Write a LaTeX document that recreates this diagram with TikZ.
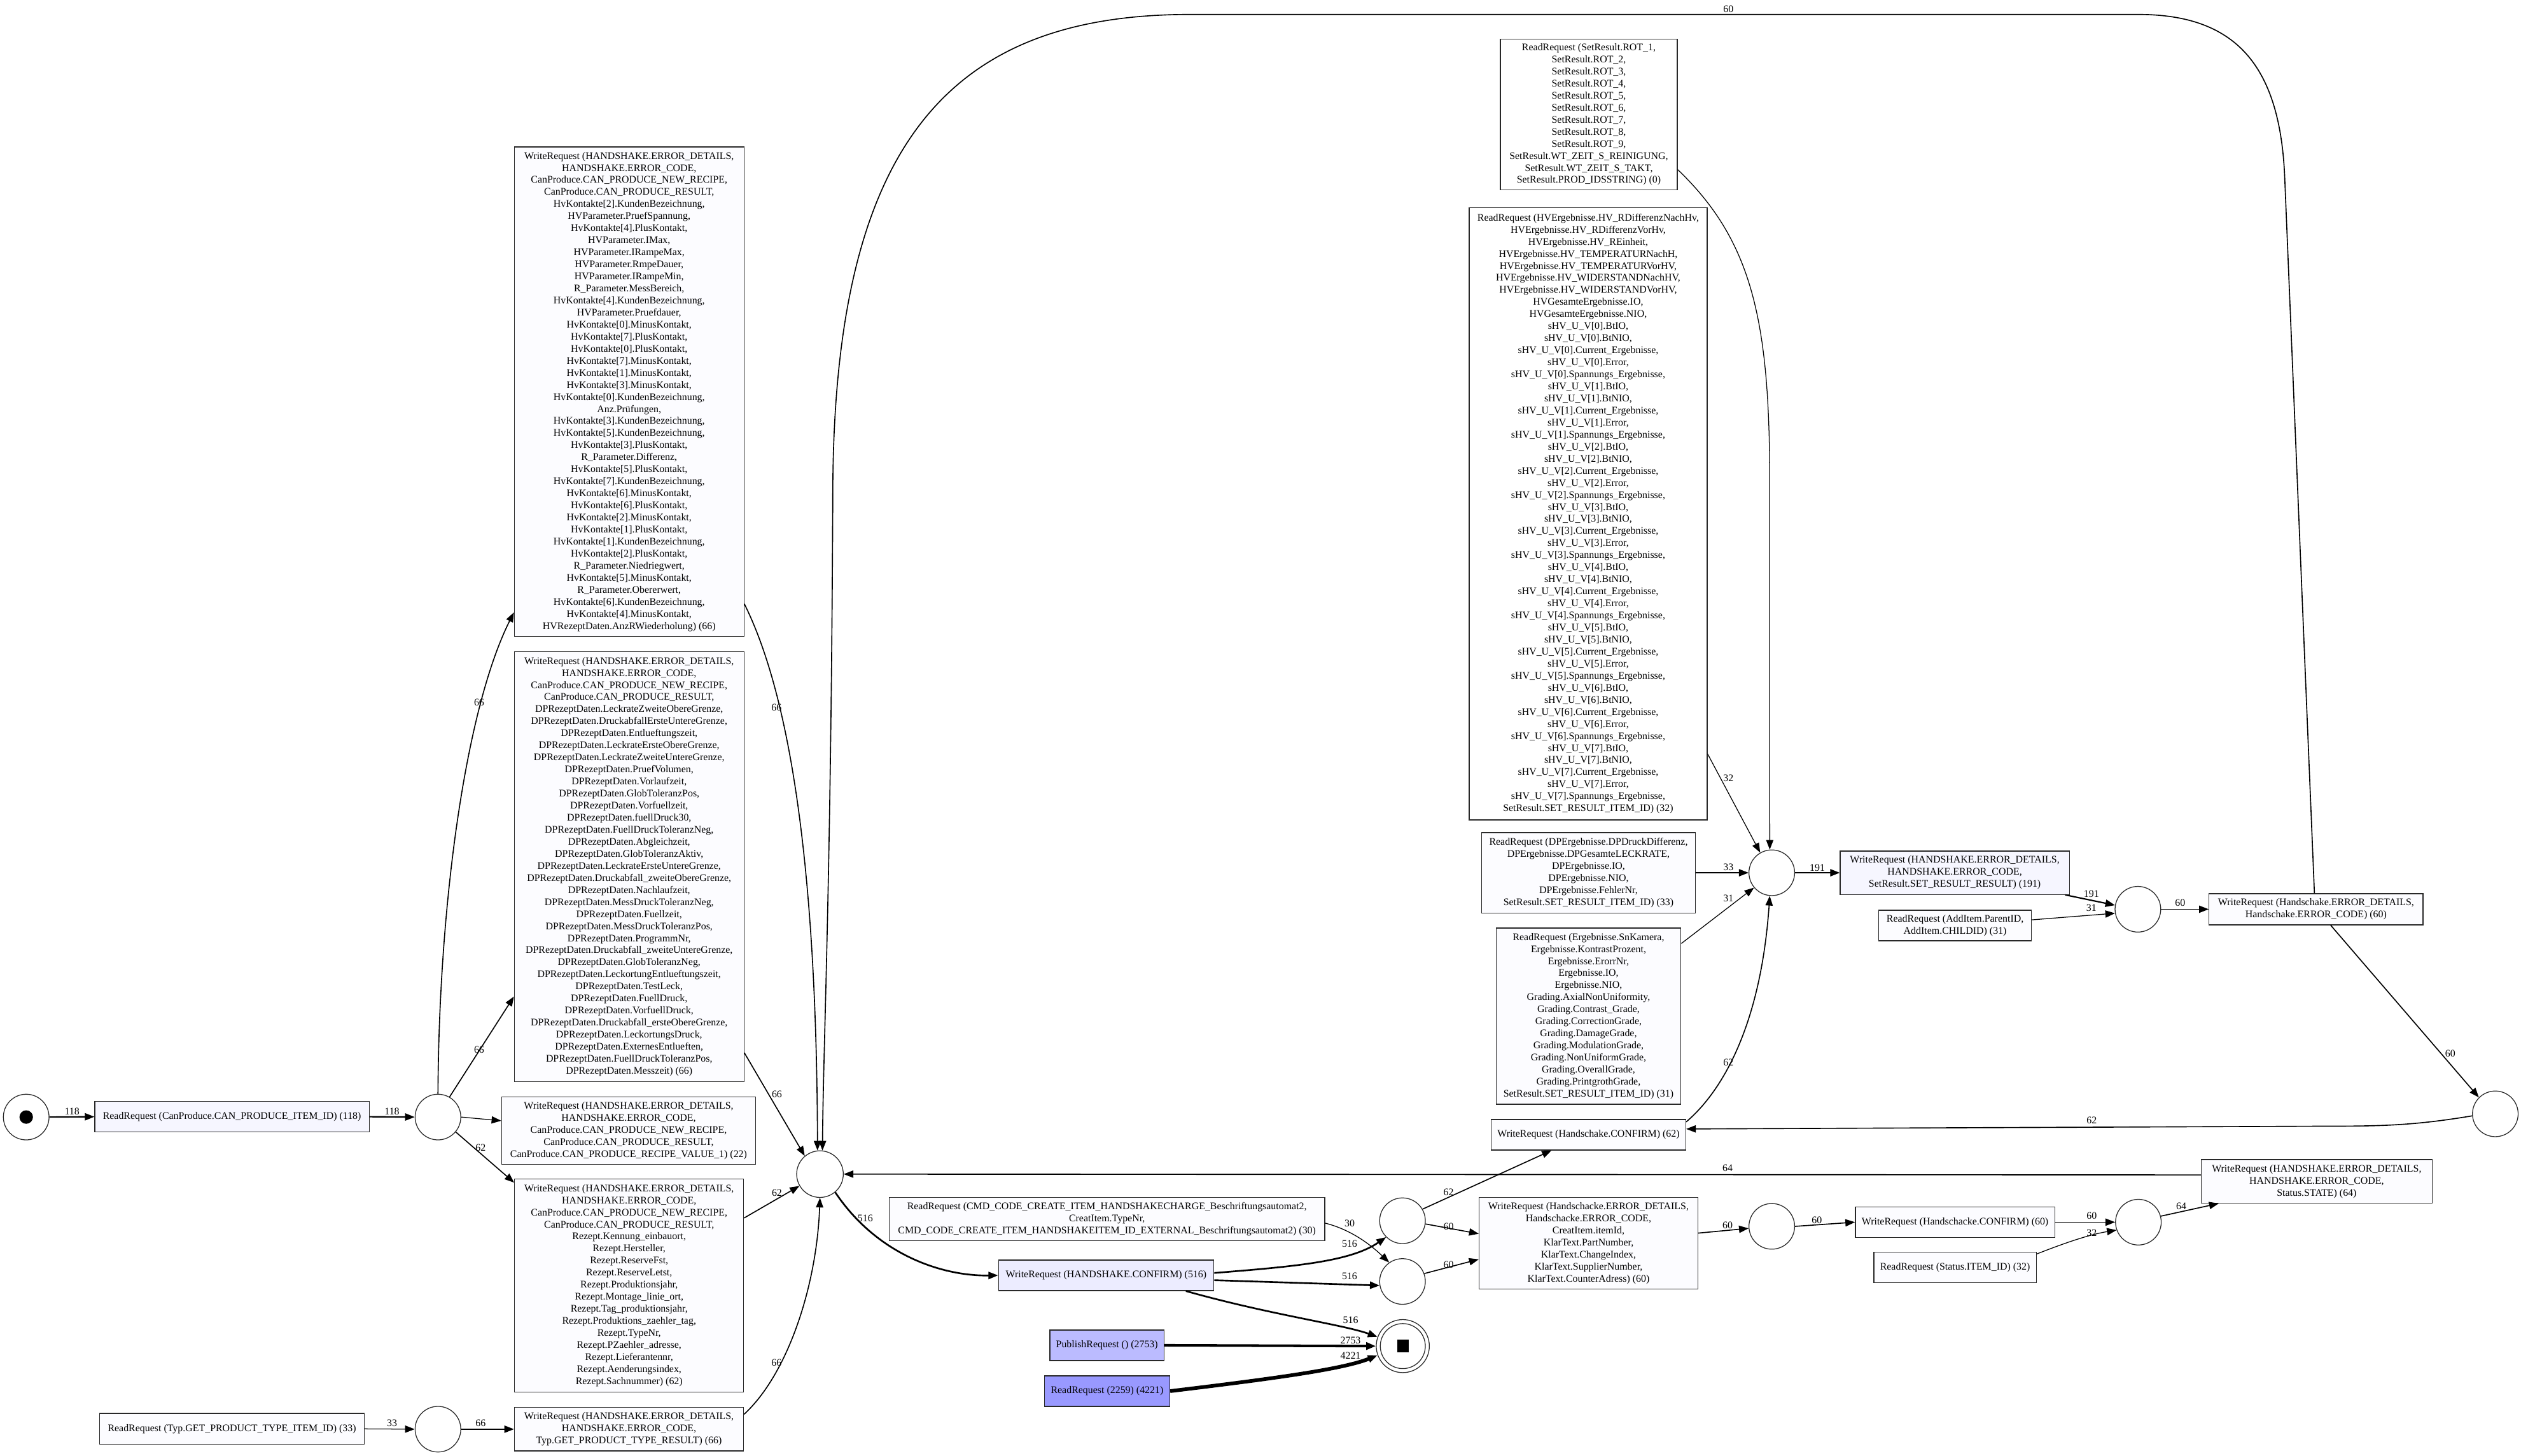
\documentclass[tikz,border=0pt]{standalone}
\usepackage{fontspec}
\setmainfont{Liberation Serif}
\usetikzlibrary{arrows.meta}
\definecolor{fA}{RGB}{252,252,255}
\definecolor{fB}{RGB}{246,246,255}
\definecolor{fC}{RGB}{236,236,255}
\definecolor{fD}{RGB}{187,187,255}
\definecolor{fE}{RGB}{153,153,255}
\definecolor{ln}{RGB}{40,40,40}
\newcommand{\dfs}{\fontsize{6.3}{7.5}\selectfont}
\begin{document}
\begin{tikzpicture}[x=1pt,y=-1pt,
  box/.style={draw=ln, line width=0.5pt, fill=fA, align=center, inner sep=1pt, font=\dfs},
  sz/.style 2 args={minimum width=#1pt, minimum height=#2pt},
  st/.style={circle, draw=ln, line width=0.5pt, minimum size=#1pt, inner sep=0pt},
  st/.default=28.4,
  lbl/.style={font=\dfs, inner sep=0pt},
  conn/.style={-{Triangle[length=6pt,width=4.5pt]}, draw=black},
  ea/.style={conn, line width=0.5pt},
  eb/.style={conn, line width=0.65pt},
  ec/.style={conn, line width=0.85pt},
  ed/.style={conn, line width=1.05pt},
  ee/.style={conn, line width=1.6pt},
  ef/.style={conn, line width=2.3pt}]
\fill[white] (0,0) rectangle (1568,905.5);
\useasboundingbox (0,0) rectangle (1568,905.5);

% ---------- nodes ----------
\node[st] (start) at (16.3,695) {};
\fill (start.center) circle[radius=4.2pt];
\node[box, fill=fB, sz={170.6}{19}] (R118) at (144.3,694.8) {ReadRequest (CanProduce.CAN\_PRODUCE\_ITEM\_ID) (118)};
\node[st] (c1) at (272.4,695) {};

\node[box, sz={142.8}{304.6}] (W66a) at (391.3,243.7) {WriteRequest (HANDSHAKE.ERROR\_DETAILS,\\
HANDSHAKE.ERROR\_CODE,\\
CanProduce.CAN\_PRODUCE\_NEW\_RECIPE,\\
CanProduce.CAN\_PRODUCE\_RESULT,\\
HvKontakte[2].KundenBezeichnung,\\
HVParameter.PruefSpannung,\\
HvKontakte[4].PlusKontakt,\\
HVParameter.IMax,\\
HVParameter.IRampeMax,\\
HVParameter.RmpeDauer,\\
HVParameter.IRampeMin,\\
R\_Parameter.MessBereich,\\
HvKontakte[4].KundenBezeichnung,\\
HVParameter.Pruefdauer,\\
HvKontakte[0].MinusKontakt,\\
HvKontakte[7].PlusKontakt,\\
HvKontakte[0].PlusKontakt,\\
HvKontakte[7].MinusKontakt,\\
HvKontakte[1].MinusKontakt,\\
HvKontakte[3].MinusKontakt,\\
HvKontakte[0].KundenBezeichnung,\\
Anz.Prüfungen,\\
HvKontakte[3].KundenBezeichnung,\\
HvKontakte[5].KundenBezeichnung,\\
HvKontakte[3].PlusKontakt,\\
R\_Parameter.Differenz,\\
HvKontakte[5].PlusKontakt,\\
HvKontakte[7].KundenBezeichnung,\\
HvKontakte[6].MinusKontakt,\\
HvKontakte[6].PlusKontakt,\\
HvKontakte[2].MinusKontakt,\\
HvKontakte[1].PlusKontakt,\\
HvKontakte[1].KundenBezeichnung,\\
HvKontakte[2].PlusKontakt,\\
R\_Parameter.Niedriegwert,\\
HvKontakte[5].MinusKontakt,\\
R\_Parameter.Obererwert,\\
HvKontakte[6].KundenBezeichnung,\\
HvKontakte[4].MinusKontakt,\\
HVRezeptDaten.AnzRWiederholung) (66)};

\node[box, sz={142.8}{267.3}] (W66b) at (391.3,539.2) {WriteRequest (HANDSHAKE.ERROR\_DETAILS,\\
HANDSHAKE.ERROR\_CODE,\\
CanProduce.CAN\_PRODUCE\_NEW\_RECIPE,\\
CanProduce.CAN\_PRODUCE\_RESULT,\\
DPRezeptDaten.LeckrateZweiteObereGrenze,\\
DPRezeptDaten.DruckabfallErsteUntereGrenze,\\
DPRezeptDaten.Entlueftungszeit,\\
DPRezeptDaten.LeckrateErsteObereGrenze,\\
DPRezeptDaten.LeckrateZweiteUntereGrenze,\\
DPRezeptDaten.PruefVolumen,\\
DPRezeptDaten.Vorlaufzeit,\\
DPRezeptDaten.GlobToleranzPos,\\
DPRezeptDaten.Vorfuellzeit,\\
DPRezeptDaten.fuellDruck30,\\
DPRezeptDaten.FuellDruckToleranzNeg,\\
DPRezeptDaten.Abgleichzeit,\\
DPRezeptDaten.GlobToleranzAktiv,\\
DPRezeptDaten.LeckrateErsteUntereGrenze,\\
DPRezeptDaten.Druckabfall\_zweiteObereGrenze,\\
DPRezeptDaten.Nachlaufzeit,\\
DPRezeptDaten.MessDruckToleranzNeg,\\
DPRezeptDaten.Fuellzeit,\\
DPRezeptDaten.MessDruckToleranzPos,\\
DPRezeptDaten.ProgrammNr,\\
DPRezeptDaten.Druckabfall\_zweiteUntereGrenze,\\
DPRezeptDaten.GlobToleranzNeg,\\
DPRezeptDaten.LeckortungEntlueftungszeit,\\
DPRezeptDaten.TestLeck,\\
DPRezeptDaten.FuellDruck,\\
DPRezeptDaten.VorfuellDruck,\\
DPRezeptDaten.Druckabfall\_ersteObereGrenze,\\
DPRezeptDaten.LeckortungsDruck,\\
DPRezeptDaten.ExternesEntlueften,\\
DPRezeptDaten.FuellDruckToleranzPos,\\
DPRezeptDaten.Messzeit) (66)};

\node[box, sz={158}{42}] (W22) at (391,703.4) {WriteRequest (HANDSHAKE.ERROR\_DETAILS,\\
HANDSHAKE.ERROR\_CODE,\\
CanProduce.CAN\_PRODUCE\_NEW\_RECIPE,\\
CanProduce.CAN\_PRODUCE\_RESULT,\\
CanProduce.CAN\_PRODUCE\_RECIPE\_VALUE\_1) (22)};

\node[box, sz={142.5}{132.5}] (W62) at (391.3,799.8) {WriteRequest (HANDSHAKE.ERROR\_DETAILS,\\
HANDSHAKE.ERROR\_CODE,\\
CanProduce.CAN\_PRODUCE\_NEW\_RECIPE,\\
CanProduce.CAN\_PRODUCE\_RESULT,\\
Rezept.Kennung\_einbauort,\\
Rezept.Hersteller,\\
Rezept.ReserveFst,\\
Rezept.ReserveLetst,\\
Rezept.Produktionsjahr,\\
Rezept.Montage\_linie\_ort,\\
Rezept.Tag\_produktionsjahr,\\
Rezept.Produktions\_zaehler\_tag,\\
Rezept.TypeNr,\\
Rezept.PZaehler\_adresse,\\
Rezept.Lieferantennr,\\
Rezept.Aenderungsindex,\\
Rezept.Sachnummer) (62)};

\node[box, sz={164.5}{19.3}] (R33t) at (144.3,889) {ReadRequest (Typ.GET\_PRODUCT\_TYPE\_ITEM\_ID) (33)};
\node[st] (c2) at (272.4,889.2) {};
\node[box, sz={142.5}{27}] (W66c) at (391.2,889.2) {WriteRequest (HANDSHAKE.ERROR\_DETAILS,\\
HANDSHAKE.ERROR\_CODE,\\
Typ.GET\_PRODUCT\_TYPE\_RESULT) (66)};

\node[st=29] (H) at (510,730.5) {};

\node[box, sz={271}{27}] (RCMD) at (688.5,758.5) {ReadRequest (CMD\_CODE\_CREATE\_ITEM\_HANDSHAKECHARGE\_Beschriftungsautomat2,\\
CreatItem.TypeNr,\\
CMD\_CODE\_CREATE\_ITEM\_HANDSHAKEITEM\_ID\_EXTERNAL\_Beschriftungsautomat2) (30)};
\node[box, fill=fC, sz={134}{19}] (W516) at (688,793.5) {WriteRequest (HANDSHAKE.CONFIRM) (516)};
\node[box, fill=fD, sz={71}{19}] (Pub) at (688.5,837) {PublishRequest () (2753)};
\node[box, fill=fE, sz={78}{19}] (R2259) at (688.6,865.5) {ReadRequest (2259) (4221)};

\node[st] (c3) at (872.3,759.5) {};
\node[st] (c4) at (872.3,797.3) {};
\node[st=33] (end) at (872.5,837.5) {};
\draw[ln, line width=0.5pt] (end.center) circle[radius=14pt];
\fill ([shift={(-3.6pt,4pt)}]end.center) rectangle ++(7.2,8);

\node[box, sz={136}{57}] (WH60) at (988,773.5) {WriteRequest (Handschacke.ERROR\_DETAILS,\\
Handschacke.ERROR\_CODE,\\
CreatItem.itemId,\\
KlarText.PartNumber,\\
KlarText.ChangeIndex,\\
KlarText.SupplierNumber,\\
KlarText.CounterAdress) (60)};
\node[box, sz={121}{19}] (CONF62) at (988,706) {WriteRequest (Handschake.CONFIRM) (62)};
\node[st] (c5) at (1102,763) {};
\node[box, sz={124}{19}] (HcCONF) at (1216,760.4) {WriteRequest (Handschacke.CONFIRM) (60)};
\node[box, sz={101}{19}] (Status) at (1216,788.6) {ReadRequest (Status.ITEM\_ID) (32)};
\node[st] (c6) at (1330,760.4) {};
\node[box, sz={143.5}{27}] (W64) at (1440.9,735) {WriteRequest (HANDSHAKE.ERROR\_DETAILS,\\
HANDSHAKE.ERROR\_CODE,\\
Status.STATE) (64)};
\node[st] (c7) at (1552,693) {};

\node[box, sz={115}{109.6}] (Erg) at (988,632.2) {ReadRequest (Ergebnisse.SnKamera,\\
Ergebnisse.KontrastProzent,\\
Ergebnisse.ErorrNr,\\
Ergebnisse.IO,\\
Ergebnisse.NIO,\\
Grading.AxialNonUniformity,\\
Grading.Contrast\_Grade,\\
Grading.CorrectionGrade,\\
Grading.DamageGrade,\\
Grading.ModulationGrade,\\
Grading.NonUniformGrade,\\
Grading.OverallGrade,\\
Grading.PrintgrothGrade,\\
SetResult.SET\_RESULT\_ITEM\_ID) (31)};
\node[box, sz={133}{50}] (DP) at (988,543) {ReadRequest (DPErgebnisse.DPDruckDifferenz,\\
DPErgebnisse.DPGesamteLECKRATE,\\
DPErgebnisse.IO,\\
DPErgebnisse.NIO,\\
DPErgebnisse.FehlerNr,\\
SetResult.SET\_RESULT\_ITEM\_ID) (33)};
\node[st] (c8) at (1102,543) {};

\node[box, fill=white, sz={148}{381}] (HV) at (987.8,319.6) {ReadRequest (HVErgebnisse.HV\_RDifferenzNachHv,\\
HVErgebnisse.HV\_RDifferenzVorHv,\\
HVErgebnisse.HV\_REinheit,\\
HVErgebnisse.HV\_TEMPERATURNachH,\\
HVErgebnisse.HV\_TEMPERATURVorHV,\\
HVErgebnisse.HV\_WIDERSTANDNachHV,\\
HVErgebnisse.HV\_WIDERSTANDVorHV,\\
HVGesamteErgebnisse.IO,\\
HVGesamteErgebnisse.NIO,\\
sHV\_U\_V[0].BtIO,\\
sHV\_U\_V[0].BtNIO,\\
sHV\_U\_V[0].Current\_Ergebnisse,\\
sHV\_U\_V[0].Error,\\
sHV\_U\_V[0].Spannungs\_Ergebnisse,\\
sHV\_U\_V[1].BtIO,\\
sHV\_U\_V[1].BtNIO,\\
sHV\_U\_V[1].Current\_Ergebnisse,\\
sHV\_U\_V[1].Error,\\
sHV\_U\_V[1].Spannungs\_Ergebnisse,\\
sHV\_U\_V[2].BtIO,\\
sHV\_U\_V[2].BtNIO,\\
sHV\_U\_V[2].Current\_Ergebnisse,\\
sHV\_U\_V[2].Error,\\
sHV\_U\_V[2].Spannungs\_Ergebnisse,\\
sHV\_U\_V[3].BtIO,\\
sHV\_U\_V[3].BtNIO,\\
sHV\_U\_V[3].Current\_Ergebnisse,\\
sHV\_U\_V[3].Error,\\
sHV\_U\_V[3].Spannungs\_Ergebnisse,\\
sHV\_U\_V[4].BtIO,\\
sHV\_U\_V[4].BtNIO,\\
sHV\_U\_V[4].Current\_Ergebnisse,\\
sHV\_U\_V[4].Error,\\
sHV\_U\_V[4].Spannungs\_Ergebnisse,\\
sHV\_U\_V[5].BtIO,\\
sHV\_U\_V[5].BtNIO,\\
sHV\_U\_V[5].Current\_Ergebnisse,\\
sHV\_U\_V[5].Error,\\
sHV\_U\_V[5].Spannungs\_Ergebnisse,\\
sHV\_U\_V[6].BtIO,\\
sHV\_U\_V[6].BtNIO,\\
sHV\_U\_V[6].Current\_Ergebnisse,\\
sHV\_U\_V[6].Error,\\
sHV\_U\_V[6].Spannungs\_Ergebnisse,\\
sHV\_U\_V[7].BtIO,\\
sHV\_U\_V[7].BtNIO,\\
sHV\_U\_V[7].Current\_Ergebnisse,\\
sHV\_U\_V[7].Error,\\
sHV\_U\_V[7].Spannungs\_Ergebnisse,\\
SetResult.SET\_RESULT\_ITEM\_ID) (32)};

\node[box, fill=white, sz={110}{93.6}] (SetRes) at (988.2,71.2) {ReadRequest (SetResult.ROT\_1,\\
SetResult.ROT\_2,\\
SetResult.ROT\_3,\\
SetResult.ROT\_4,\\
SetResult.ROT\_5,\\
SetResult.ROT\_6,\\
SetResult.ROT\_7,\\
SetResult.ROT\_8,\\
SetResult.ROT\_9,\\
SetResult.WT\_ZEIT\_S\_REINIGUNG,\\
SetResult.WT\_ZEIT\_S\_TAKT,\\
SetResult.PROD\_IDSSTRING) (0)};

\node[box, fill=fB, sz={142.5}{27}] (W191) at (1215.8,543) {WriteRequest (HANDSHAKE.ERROR\_DETAILS,\\
HANDSHAKE.ERROR\_CODE,\\
SetResult.SET\_RESULT\_RESULT) (191)};
\node[box, sz={95}{19}] (AddItem) at (1216,575.8) {ReadRequest (AddItem.ParentID,\\
AddItem.CHILDID) (31)};
\node[st] (c9) at (1329.7,565.7) {};
\node[box, sz={133}{19.4}] (W60hs) at (1440.5,565.7) {WriteRequest (Handschake.ERROR\_DETAILS,\\
Handschake.ERROR\_CODE) (60)};

% ---------- edges ----------
\draw[ec] (start.east) -- (R118.west);
\draw[ec] (R118.east) -- (c1.west);
\draw[eb] (c1.north) .. controls (273,560) and (290,440) .. ([yshift=-137.3pt]W66a.west);
\draw[eb] (c1.60) -- ([yshift=-80.8pt]W66b.west);
\draw[ea] (c1.east) -- ([yshift=6.1pt]W22.west);
\draw[eb] (c1.-40) -- ([yshift=64pt]W62.west);
\draw[ea] (R33t.east) -- (c2.west);
\draw[eb] (c2.east) -- (W66c.west);

\draw[eb] ([yshift=-132pt]W66a.east) .. controls (495,440) and (508,560) .. (H.96);
\draw[eb] ([yshift=-115.8pt]W66b.east) -- (H.130);
\draw[eb] ([yshift=42pt]W62.east) -- (H.210);
\draw[eb] ([yshift=9.2pt]W66c.east) .. controls (490,855) and (508,800) .. (H.south);
\draw[eb] ([yshift=4pt]W64.west) -- (H.east);
\draw[ed] (H.-50) .. controls (545,780) and (585,794) .. (W516.west);

\draw[ea] ([yshift=-2.5pt]RCMD.east) .. controls (840,765) and (852,774) .. (c4.125);
\draw[ed] ([yshift=1.5pt]W516.east) .. controls (805,788) and (840,785) .. (c3.225);
\draw[ed] ([yshift=-3pt]W516.east) -- (c4.190);
\draw[ed] ([xshift=49.6pt]W516.south) .. controls (790,818) and (835,824) .. (end.160);
\draw[ee] (Pub.east) -- (end.west);
\draw[ef] (R2259.east) .. controls (790,858) and (835,852) .. (end.200);

\draw[eb] (c3.30) -- ([xshift=-23pt]CONF62.south);
\draw[eb] (c3.-8) -- ([yshift=5.9pt]WH60.west);
\draw[eb] (c4.20) -- ([yshift=-10pt]WH60.west);
\draw[eb] ([yshift=6.3pt]WH60.east) -- (c5.185);
\draw[eb] (c5.east) -- (HcCONF.west);
\draw[eb] (HcCONF.east) -- (c6.west);
\draw[ea] ([yshift=8.4pt]Status.east) .. controls (1285,773) and (1300,768) .. (c6.200);
\draw[eb] (c6.15) -- ([xshift=-60.9pt]W64.south);
\draw[eb] ([xshift=9.1pt]W60hs.south) -- (c7.135);
\draw[eb] (c7.185) .. controls (1500,700.5) and (1480,700.7) .. (1440,700.7) -- ([yshift=3.6pt]CONF62.east);
\draw[eb] ([xshift=-1pt]W60hs.north) -- (1421,110) .. controls (1418,40) and (1390,9) .. (1330,9) -- (740,9) .. controls (590,9) and (520,90) .. (518,300) .. controls (517,550) and (512,650) .. (H.84);

\draw[ea] ([yshift=-34.3pt]SetRes.east) .. controls (1090,150) and (1100.7,200) .. (1100.7,300) -- (c8.95);
\draw[ea] ([yshift=-149.4pt]HV.east) -- (c8.120);
\draw[ea] (DP.east) -- (c8.west);
\draw[ea] ([yshift=45.2pt]Erg.east) -- (c8.220);
\draw[eb] ([yshift=8pt]CONF62.east) .. controls (1070,680) and (1095,640) .. (c8.265);
\draw[ec] (c8.east) -- (W191.west);
\draw[ec] ([xshift=68.6pt]W191.south) -- (c9.170);
\draw[ea] ([yshift=3.5pt]AddItem.east) -- (c9.190);
\draw[eb] (c9.east) -- (W60hs.west);

% ---------- labels ----------
\node[lbl] (l1) at (44.8,691.3) {118};
\node[lbl] (l2) at (243.8,691.3) {118};
\node[lbl] (l3) at (298,437) {66};
\node[lbl] (l4) at (298,653) {66};
\node[lbl] (l5) at (298.9,714) {62};
\node[lbl] (l6) at (243.8,885.3) {33};
\node[lbl] (l7) at (298.9,885.3) {66};
\node[lbl] (l8) at (483,440) {66};
\node[lbl] (l9) at (483.2,680.7) {66};
\node[lbl] (l10) at (483.2,742) {62};
\node[lbl] (l11) at (483,848) {66};
\node[lbl] (l12) at (538.2,757.8) {516};
\node[lbl] (l13) at (839.4,761) {30};
\node[lbl] (l14) at (839.4,774) {516};
\node[lbl] (l15) at (839.4,794) {516};
\node[lbl] (l16) at (840,821.5) {516};
\node[lbl] (l17) at (840,834) {2753};
\node[lbl] (l18) at (840,843.6) {4221};
\node[lbl] (l19) at (901,741.6) {62};
\node[lbl] (l20) at (901,763) {60};
\node[lbl] (l21) at (901,787) {60};
\node[lbl] (l22) at (1074.5,762.2) {60};
\node[lbl] (l23) at (1130,759) {60};
\node[lbl] (l24) at (1301,756.5) {60};
\node[lbl] (l25) at (1301,767) {32};
\node[lbl] (l26) at (1356.7,750.6) {64};
\node[lbl] (l27) at (1074.5,726.6) {64};
\node[lbl] (l28) at (1301,697) {62};
\node[lbl] (l29) at (1524,655.3) {60};
\node[lbl] (l30) at (1075,5.5) {60};
\node[lbl] (l31) at (1075,661) {62};
\node[lbl] (l32) at (1075,484) {32};
\node[lbl] (l33) at (1075,539.5) {33};
\node[lbl] (l34) at (1075,559) {31};
\node[lbl] (l35) at (1130.3,539.8) {191};
\node[lbl] (l36) at (1300.8,556) {191};
\node[lbl] (l37) at (1300.8,564.8) {31};
\node[lbl] (l38) at (1356,561.7) {60};
\end{tikzpicture}
\end{document}
